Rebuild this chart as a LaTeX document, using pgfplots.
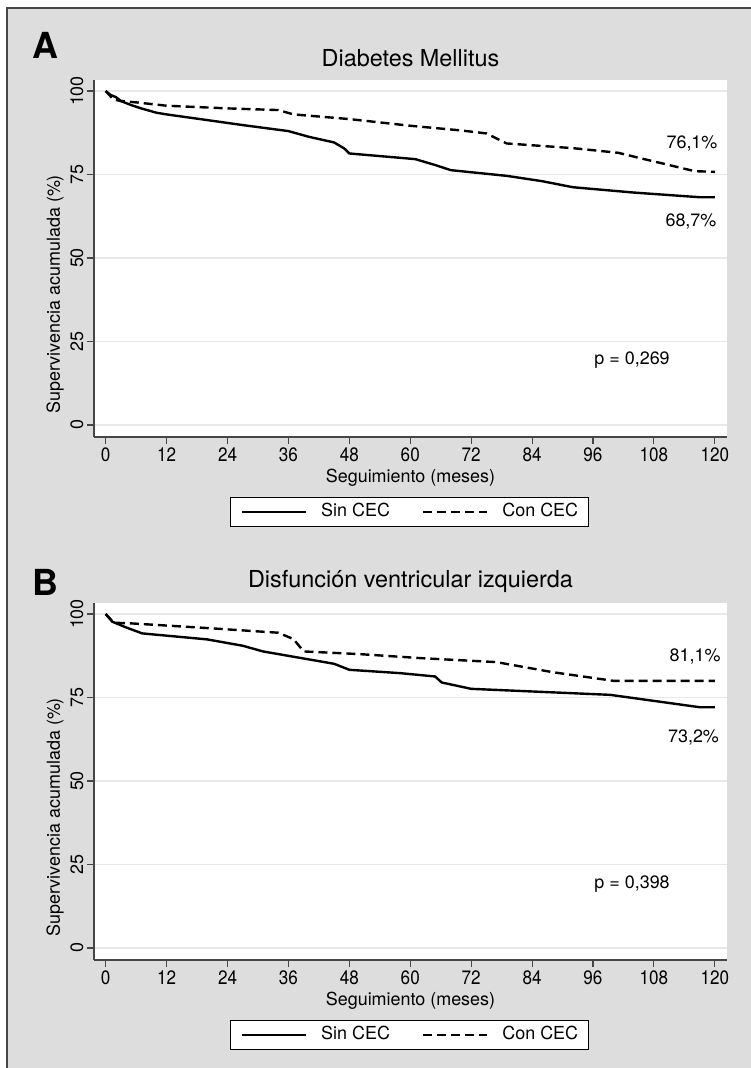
\documentclass[border=0pt]{standalone}
\usepackage{pgfplots}
\pgfplotsset{compat=1.18}
\usepackage{fontspec}
\setmainfont{TeX Gyre Heros}
\newfontfamily\tickfont[FakeStretch=0.88]{TeX Gyre Heros}
\definecolor{bggray}{RGB}{221,221,221}
\definecolor{gridgray}{RGB}{232,232,232}
\definecolor{axgray}{RGB}{70,70,70}
\newcommand{\fs}{\fontsize{18}{21}\selectfont}
\newcommand{\tfs}{\tickfont\fontsize{19.5}{22}\selectfont}
\pgfplotsset{
  km/.style={
    scale only axis, width=633bp, height=357bp,
    xmin=-2.3, xmax=122.4, ymin=-3.6, ymax=103.3,
    xtick={0,12,...,120}, ytick={0,25,50,75,100},
    axis x line*=bottom, axis y line*=left,
    axis line style={draw=axgray, line width=1.3bp, -},
    tick align=outside, major tick length=7bp,
    tick style={draw=axgray, line width=1.1bp},
    ymajorgrids, grid style={draw=gridgray, line width=1.5bp},
    axis background/.style={fill=white},
    /pgf/number format/assume math mode=true,
    xticklabel style={font=\tfs},
    yticklabel style={font=\fs, rotate=90, anchor=south},
    xlabel={Seguimiento (meses)},
    ylabel={Supervivencia acumulada (\%)},
    label style={font=\fs},
    xlabel style={at={(axis description cs:0.5,-0.1148)}, anchor=center},
    ylabel style={at={(axis description cs:-0.0616,0.40)}, anchor=center},
    title style={font=\fontsize{23.5}{26}\selectfont, anchor=base},
    clip=false,
    legend columns=2,
    legend image code/.code={\draw[#1] (0bp,0bp) -- (64bp,0bp);},
    legend style={at={(axis description cs:0.4984,-0.2101)}, anchor=center,
      draw=black, line width=1.1bp, fill=white, font=\fs,
      inner xsep=10bp, inner ysep=6bp,
      nodes={inner sep=0bp, text height=13bp, text depth=4bp},
      /tikz/every odd column/.append style={column sep=14bp},
      /tikz/every even column/.append style={column sep=32bp}},
  },
  sin/.style={black, line width=2.4bp, solid},
  con/.style={black, line width=2.4bp, dash pattern=on 9bp off 5bp},
}
\begin{document}
\begin{tikzpicture}
\useasboundingbox (0bp,0bp) rectangle (751bp,-1068bp);
\fill[white] (0bp,0bp) rectangle (751bp,-1068bp);
\fill[bggray] (7bp,-8bp) rectangle (751bp,-1068bp);
\draw[axgray, line width=1.5bp] (751bp,-8bp) -- (7bp,-8bp) -- (7bp,-1068bp);
\node[font=\fontsize{36}{40}\selectfont\bfseries, anchor=base] at (45bp,-58bp) {A};
\node[font=\fontsize{36}{40}\selectfont\bfseries, anchor=base] at (45bp,-595bp) {B};

\begin{axis}[km, at={(94bp,-437bp)}, anchor=south west,
  title={Diabetes Mellitus}, title style={at={(axis description cs:0.5,1.0224)}}]
\addplot[sin] coordinates {(0,100) (1,98.8) (2,98.2) (3,97) (5,95.8) (7,94.8) (10,93.5) (12,93.0) (20,91.3) (27,89.8) (36,88.0) (40,86.3) (45,84.6) (47,82.8) (48,81.3) (58,80.0) (61,79.6) (65,77.8) (68,76.3) (79,74.6) (86,73.0) (92,71.2) (104,69.6) (117,68.2) (120,68.2)};
\addlegendentry{Sin CEC}
\addplot[con] coordinates {(0,100) (1.5,97.5) (3,97.0) (6,96.6) (12,95.6) (24,94.8) (34,94.3) (37,93.0) (48,91.6) (60,89.6) (70,88.2) (75,87.3) (79,84.3) (92,82.9) (101,81.5) (105,80.0) (110,78.2) (116,76.0) (120,75.8)};
\addlegendentry{Con CEC}
\node[font=\fs, anchor=base] at (axis cs:115.5,82.9) {76,1\%};
\node[font=\fs, anchor=base] at (axis cs:115.3,59.3) {68,7\%};
\node[font=\fs, anchor=base] at (axis cs:103.7,18.0) {p = 0,269};
\end{axis}

\begin{axis}[km, at={(94bp,-960bp)}, anchor=south west,
  title={Disfunción ventricular izquierda}, title style={at={(axis description cs:0.5,1.028)}}]
\addplot[sin] coordinates {(0,100) (1.3,97.7) (4,96) (7.2,94.2) (20,92.4) (27,90.5) (31,88.8) (45,85.1) (48,83.3) (58,82.3) (64.9,81.3) (66.2,79.5) (72,77.6) (99.4,75.8) (117,72.1) (120,72.1)};
\addlegendentry{Sin CEC}
\addplot[con] coordinates {(0,100) (1.6,97.4) (5,97.2) (20,95.8) (34,94.4) (37,92.5) (39,88.8) (50,88.0) (62,86.8) (77,85.6) (88,82.6) (100,80.0) (120,80.0)};
\addlegendentry{Con CEC}
\node[font=\fs, anchor=base] at (axis cs:116.1,85.7) {81,1\%};
\node[font=\fs, anchor=base] at (axis cs:115.8,61.5) {73,2\%};
\node[font=\fs, anchor=base] at (axis cs:103.7,17.9) {p = 0,398};
\end{axis}
\end{tikzpicture}
\end{document}
